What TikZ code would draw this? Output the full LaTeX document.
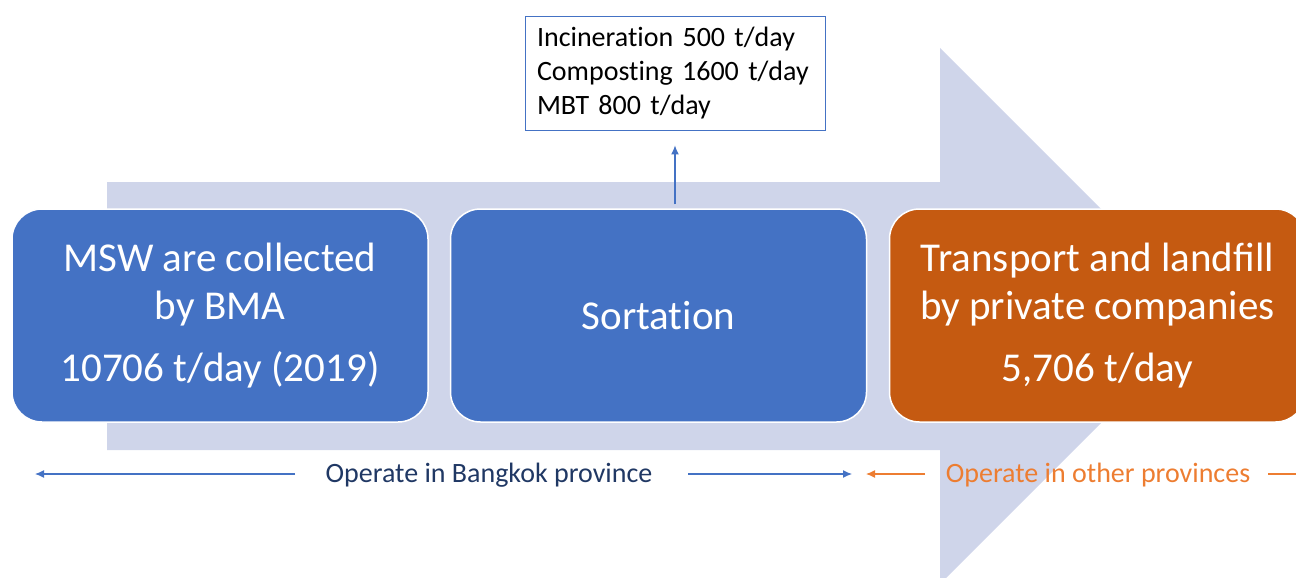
\documentclass[tikz,border=0pt]{standalone}
\usepackage{fontspec}
\setmainfont{Carlito}
\usetikzlibrary{arrows.meta}
\newcommand{\nolig}{\kern0pt{}}
\definecolor{bigarrow}{HTML}{CFD5EA}
\definecolor{boxblue}{HTML}{4472C4}
\definecolor{boxorange}{HTML}{C55A11}
\definecolor{txtorange}{HTML}{ED7D31}
\definecolor{txtnavy}{HTML}{203864}
\tikzset{
  stagebox/.style={draw=white, line width=1.5pt, rounded corners=30pt,
    minimum width=416pt, minimum height=213pt, inner sep=0pt,
    text=white, align=center, font=\fontsize{41}{48}\selectfont},
  infobox/.style={draw=boxblue, line width=0.9pt, fill=white,
    minimum width=300pt, minimum height=114pt, inner xsep=12pt, inner ysep=0pt,
    text width=276pt, align=left, font=\fontsize{28}{34}\selectfont},
  bluearr/.style={draw=boxblue, line width=1.2pt, -{Latex[length=9pt,width=8pt]}},
  orangearr/.style={draw=txtorange, line width=1.2pt, -{Latex[length=9pt,width=8pt]}},
  lbl/.style={font=\fontsize{28}{34}\selectfont, inner sep=0pt}
}
\begin{document}
\begin{tikzpicture}[x=1pt,y=-1pt]
\useasboundingbox (0,0) rectangle (1296,578);
\clip (0,0) rectangle (1296,578);
% big background arrow
\fill[bigarrow] (107,182) -- (940,182) -- (940,48) -- (1208,316) -- (940,584) -- (940,450) -- (107,450) -- cycle;
% stage boxes
\node[stagebox, fill=boxblue] (collect) at (220,315.5) {MSW are collected\\by BMA\\[14pt]10706 t/day (2019)};
\node[stagebox, fill=boxblue] (sort) at (658.5,315.5) {Sortat\nolig ion};
\node[stagebox, fill=boxorange] (land) at (1097.5,315.5) {Transport and landfill\\by private companies\\[14pt]5,706 t/day};
% info box
\node[infobox] (info) at (675,73) {Incinerat\nolig ion 500 t/day\\Compost\nolig ing 1600 t/day\\MBT 800 t/day};
\draw[bluearr, shorten <=4pt, shorten >=15pt] (info.south |- sort.north) -- (info.south);
% bottom labels
\node[lbl, text=txtnavy] (bkk) at (489,475) {Operate in Bangkok province};
\node[lbl, text=txtorange] (other) at (1098,475) {Operate in other provinces};
\coordinate (bl1) at (295,474);
\coordinate (bl2) at (35,474);
\coordinate (br1) at (688,474);
\coordinate (br2) at (852,474);
\coordinate (ol1) at (925,474);
\coordinate (ol2) at (866,474);
\coordinate (or1) at (1268,474);
\coordinate (or2) at (1320,474);
\draw[bluearr] (bl1) -- (bl2);
\draw[bluearr] (br1) -- (br2);
\draw[orangearr] (ol1) -- (ol2);
\draw[orangearr] (or1) -- (or2);
\end{tikzpicture}
\end{document}
